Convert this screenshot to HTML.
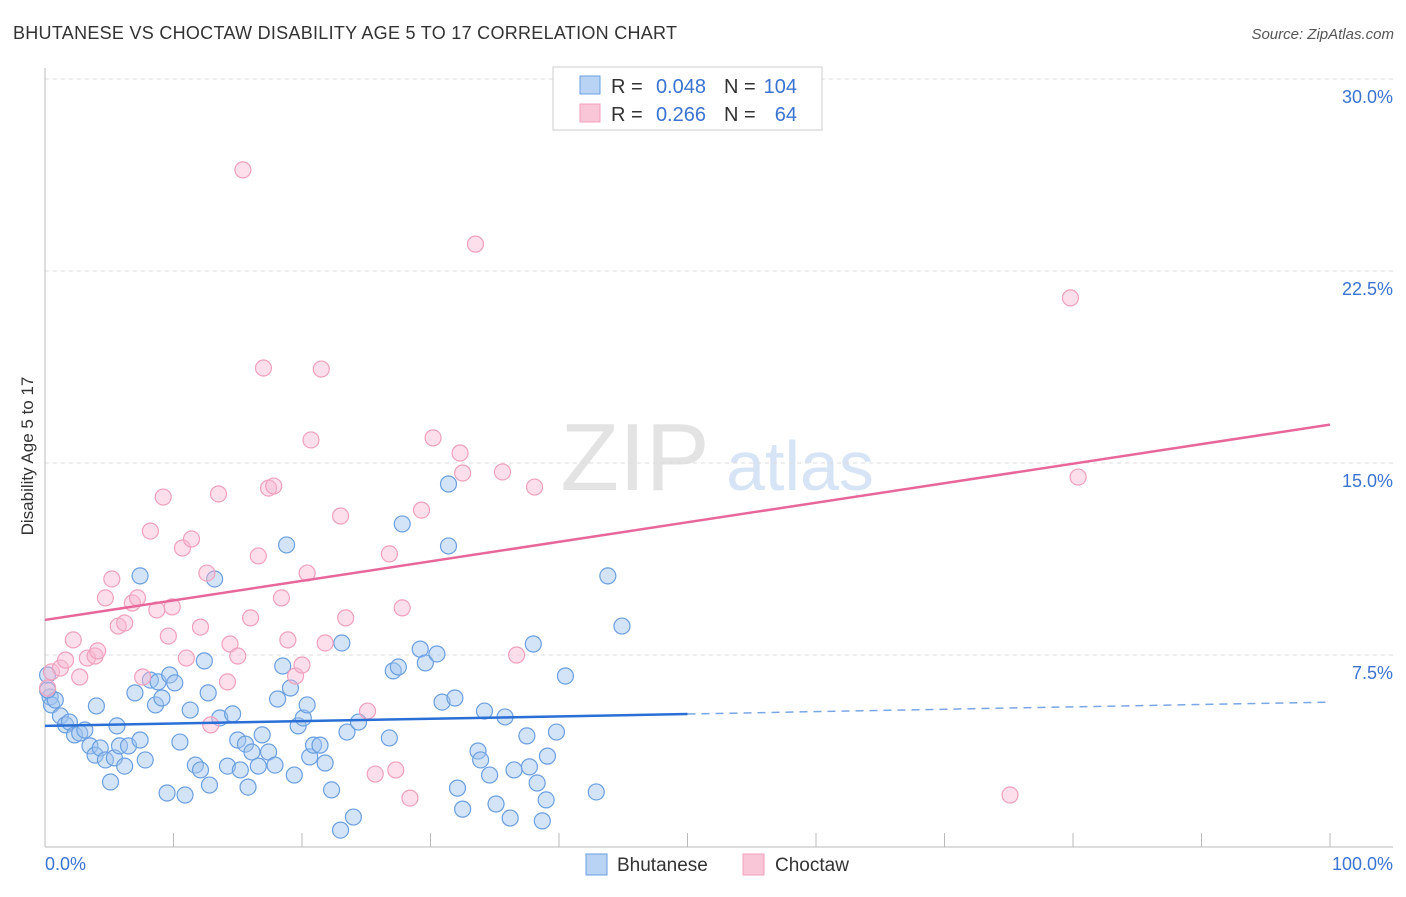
<!DOCTYPE html>
<html><head><meta charset="utf-8"><style>
body{margin:0;background:#fff;font-family:"Liberation Sans",sans-serif;}
svg text{font-family:"Liberation Sans",sans-serif;}
</style></head><body>
<svg id="chart" width="1406" height="892" xmlns="http://www.w3.org/2000/svg">
<text x="13" y="39" font-size="18" fill="#333" textLength="664">BHUTANESE VS CHOCTAW DISABILITY AGE 5 TO 17 CORRELATION CHART</text>
<text x="1394" y="39" font-size="15" fill="#555" text-anchor="end" font-style="italic">Source: ZipAtlas.com</text>
<text transform="translate(33,456) rotate(-90)" font-size="17" fill="#333" text-anchor="middle">Disability Age 5 to 17</text>
<g>
<text x="635" y="490" font-size="96" fill="#e3e3e3" text-anchor="middle" font-family="Liberation Serif">ZIP</text>
<text x="800" y="490" font-size="70" fill="#d6e4f5" text-anchor="middle">atlas</text>
</g>
<g id="grid"></g>
<g id="axes"></g>
<g id="marks"></g>
<g>
<rect x="553" y="67" width="269" height="63" fill="#fff" stroke="#ccc"/>
<rect x="580" y="76" width="20" height="18" fill="#b9d3f5" stroke="#6a9fe0"/>
<rect x="580" y="104" width="20" height="18" fill="#f9c6d7" stroke="#f0a0bc"/>
<text x="611" y="93" font-size="20" fill="#333">R =</text>
<text x="706" y="93" font-size="20" fill="#3a74d0" text-anchor="end">0.048</text>
<text x="724" y="93" font-size="20" fill="#333">N =</text>
<text x="797" y="93" font-size="20" fill="#3a74d0" text-anchor="end">104</text>
<text x="611" y="121" font-size="20" fill="#333">R =</text>
<text x="706" y="121" font-size="20" fill="#3a74d0" text-anchor="end">0.266</text>
<text x="724" y="121" font-size="20" fill="#333">N =</text>
<text x="797" y="121" font-size="20" fill="#3a74d0" text-anchor="end">64</text>
</g>
<g>
<rect x="586" y="854" width="21" height="21" fill="#b9d3f5" stroke="#6a9fe0"/>
<text x="617" y="871" font-size="19" fill="#333">Bhutanese</text>
<rect x="743" y="854" width="21" height="21" fill="#f9c6d7" stroke="#f0a0bc"/>
<text x="775" y="871" font-size="19" fill="#333">Choctaw</text>
</g>
</svg>
<script>
const yTicks=[7.5,15,22.5,30];
const yTickLabels=["7.5%","15.0%","22.5%","30.0%"];
const xTicks=[0,10,20,30,40,50,60,70,80,90,100];
const blueX=[0.4,0.5,0.8,1.2,1.6,1.9,2.3,2.7,3.1,3.5,3.9,4.0,4.3,4.7,5.1,5.4,5.6,5.8,6.2,6.5,7.0,7.4,7.4,7.8,8.2,8.6,8.8,9.1,9.5,9.7,10.1,10.5,10.9,11.3,11.7,12.1,12.4,12.7,12.8,13.2,13.6,14.2,14.6,15.0,15.2,15.6,15.8,16.1,16.6,16.9,17.4,17.9,18.1,18.5,18.8,19.1,19.4,19.7,20.1,20.4,20.6,20.9,21.4,21.8,22.3,23.0,23.1,23.5,24.0,24.4,26.8,27.1,27.5,27.8,29.2,29.6,30.5,30.9,31.4,31.4,31.9,32.1,32.5,33.7,33.9,34.2,34.6,35.1,35.8,36.2,36.5,37.5,37.7,38.0,38.3,38.7,39.0,39.1,39.8,40.5,42.9,43.8,44.9,0.2,0.2];
const blueY=[5.86,5.55,5.74,5.12,4.77,4.88,4.38,4.45,4.57,3.95,3.59,5.51,3.87,3.40,2.54,3.48,4.73,3.95,3.16,3.95,6.02,10.59,4.18,3.40,6.52,5.55,6.45,5.82,2.11,6.72,6.41,4.10,2.03,5.35,3.20,3.01,7.27,6.02,2.42,10.47,5.04,3.16,5.20,4.18,3.01,4.02,2.34,3.71,3.16,4.38,3.71,3.20,5.78,7.07,11.80,6.21,2.81,4.73,5.04,5.55,3.52,3.98,3.98,3.28,2.23,0.66,7.97,4.49,1.17,4.88,4.26,6.88,7.03,12.62,7.73,7.19,7.54,5.66,14.18,11.76,5.82,2.30,1.48,3.75,3.40,5.31,2.81,1.68,5.08,1.13,3.01,4.34,3.13,7.93,2.50,1.02,1.84,3.55,4.49,6.68,2.15,10.59,8.63,6.13,6.72];
const pinkX=[0.2,0.5,1.2,1.6,2.2,2.7,3.3,3.9,4.1,4.7,5.2,5.7,6.2,6.8,7.2,7.6,8.2,8.7,9.2,9.6,9.9,10.7,11.0,11.4,12.1,12.6,12.9,13.5,14.2,14.4,15.0,15.4,16.0,16.6,17.0,17.4,17.8,18.4,18.9,19.5,20.0,20.4,20.7,21.5,21.8,23.0,23.4,25.1,25.7,26.8,27.3,27.8,28.4,29.3,30.2,32.3,32.5,33.5,35.6,36.7,38.1,75.1,79.8,80.4];
const pinkY=[6.21,6.84,6.99,7.30,8.09,6.64,7.38,7.46,7.66,9.73,10.47,8.63,8.75,9.53,9.73,6.64,12.34,9.26,13.67,8.24,9.38,11.68,7.38,12.03,8.59,10.70,4.77,13.79,6.45,7.93,7.46,26.45,8.95,11.37,18.71,14.02,14.10,9.73,8.09,6.68,7.11,10.70,15.90,18.67,7.97,12.93,8.95,5.31,2.85,11.45,3.01,9.34,1.91,13.16,15.98,15.39,14.61,23.55,14.65,7.50,14.06,2.03,21.45,14.45];
const blueTrend=[4.73,5.66];
const pinkTrend=[8.87,16.5];
const NS="http://www.w3.org/2000/svg";
const X=v=>45+v*12.85, Y=v=>847-v*25.6;
function mk(tag,attrs,parent){const e=document.createElementNS(NS,tag);for(const k in attrs)e.setAttribute(k,attrs[k]);document.getElementById(parent).appendChild(e);return e;}
yTicks.forEach((t,i)=>{
 const l=mk('line',{x1:45,x2:1393,y1:Y(t),y2:Y(t),stroke:'#ddd','stroke-dasharray':'4,4'},'grid');
 
 
 const tx=mk('text',{x:1393,y:Y(t)+24,'font-size':18,fill:'#3a74d0','text-anchor':'end'},'axes');
 tx.textContent=yTickLabels[i];
 
 
});
const ax=mk('line',{x1:45,x2:45,y1:68,y2:847,stroke:'#bbb'},'axes');


const bx=mk('line',{x1:45,x2:1393,y1:847,y2:847,stroke:'#bbb'},'axes');


xTicks.forEach(t=>{
 const l=mk('line',{x1:X(t),x2:X(t),y1:833,y2:847,stroke:'#bbb'},'axes');
 
 
});
const x0=mk('text',{x:45,y:870,'font-size':18,fill:'#3a74d0'},'axes');x0.textContent='0.0%';


const x1=mk('text',{x:1393,y:870,'font-size':18,fill:'#3a74d0','text-anchor':'end'},'axes');x1.textContent='100.0%';


function pts(xs,ys,fill,stroke,name){xs.forEach((x,i)=>{
 const c=mk('circle',{cx:X(x),cy:Y(ys[i]),r:8,fill:fill,stroke:stroke,'stroke-width':1.2},'marks');
 
 
});}
pts(blueX,blueY,'rgba(160,195,240,0.45)','#6a9fe0','bhutanese-point');
pts(pinkX,pinkY,'rgba(248,185,208,0.45)','#f0a0bc','choctaw-point');
const bm=blueTrend[0]+(blueTrend[1]-blueTrend[0])*0.5;
const t1=mk('line',{x1:X(0),y1:Y(blueTrend[0]),x2:X(50),y2:Y(bm),stroke:'#2a6fd6','stroke-width':2.5},'marks');


const t2=mk('line',{x1:X(50),y1:Y(bm),x2:X(100),y2:Y(blueTrend[1]),stroke:'#7aa6e6','stroke-width':1.5,'stroke-dasharray':'8,6'},'marks');


const t3=mk('line',{x1:X(0),y1:Y(pinkTrend[0]),x2:X(100),y2:Y(pinkTrend[1]),stroke:'#e8679a','stroke-width':2.5},'marks');


</script>
</body></html>
